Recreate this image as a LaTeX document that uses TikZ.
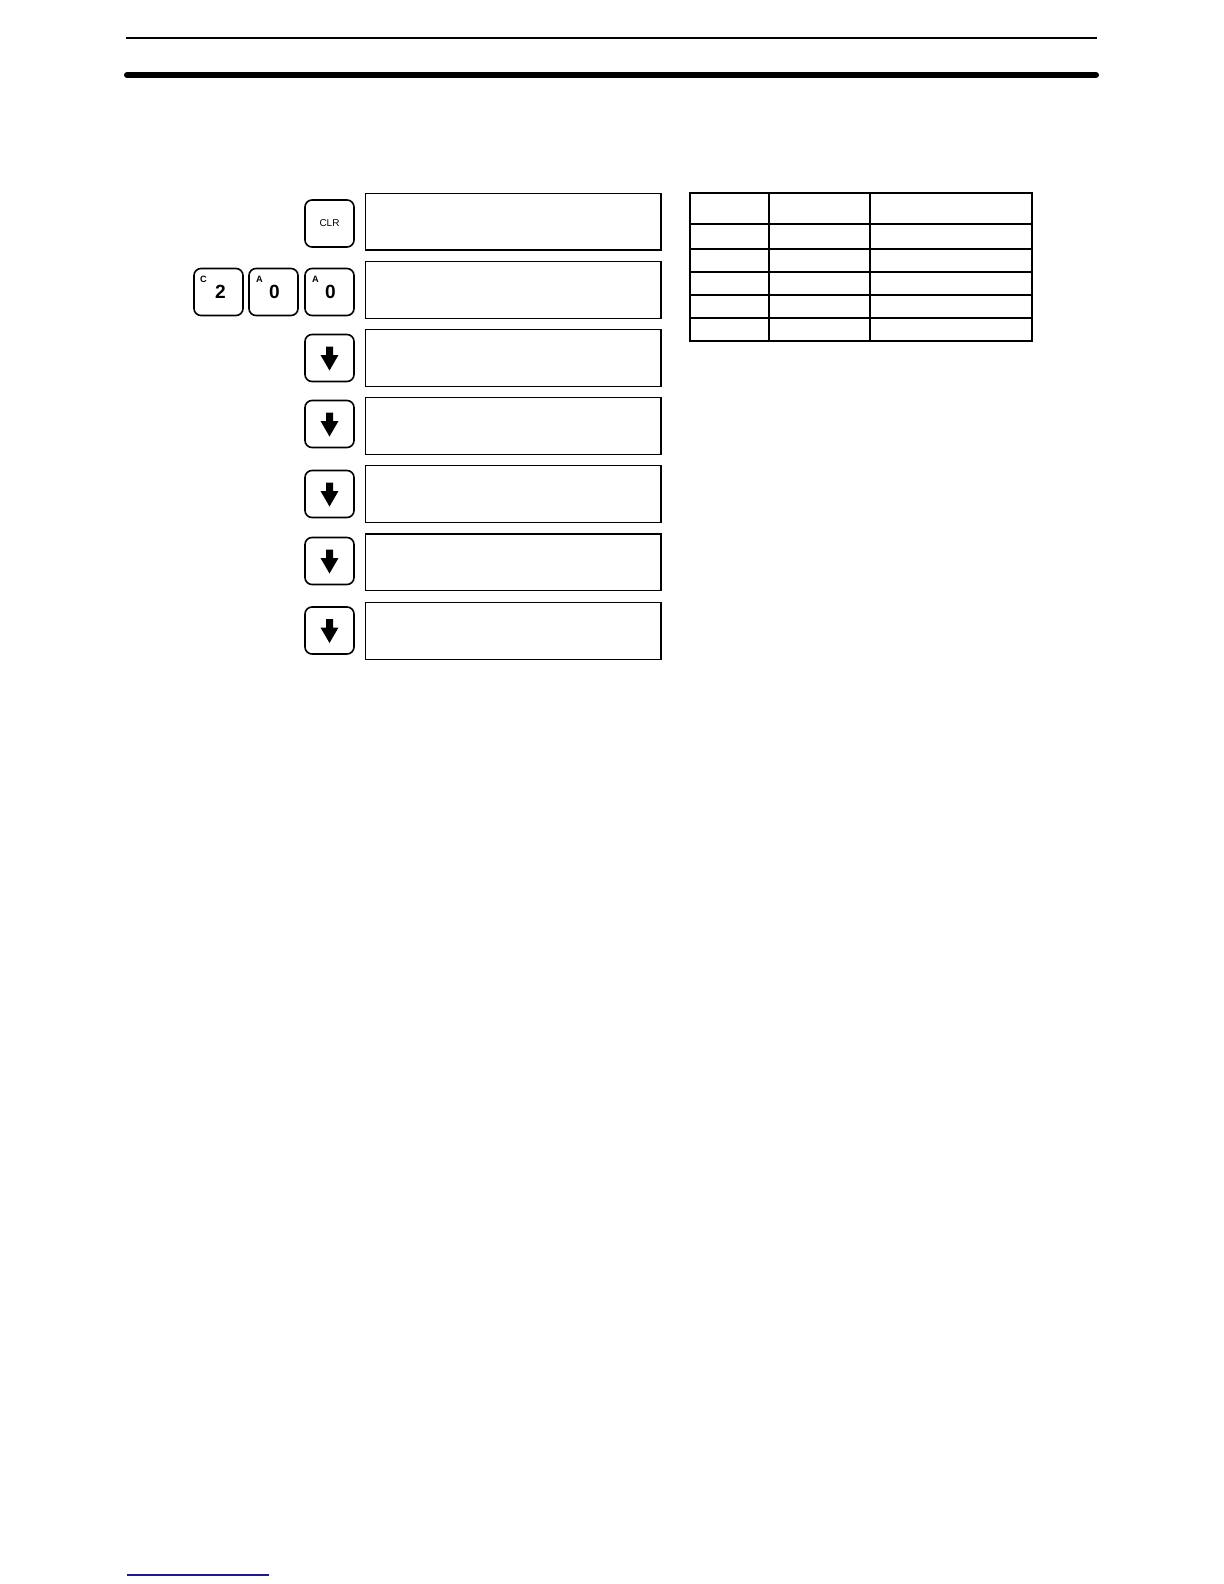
\documentclass[tikz,border=0pt]{standalone}
\usepackage{fontspec}
\setmainfont{Liberation Sans}
\definecolor{ManualBlack}{RGB}{0,0,0}
\definecolor{ManualBlue}{RGB}{25,25,150}

\begin{document}
\begin{tikzpicture}[x=0.5bp,y=-0.5bp,
		keycap/.style={draw=ManualBlack, line width=0.8bp, rounded corners=3.5bp,
			minimum width=24.5bp, minimum height=23.5bp, inner sep=0pt,
			font=\fontsize{9.6}{9.6}\bfseries\selectfont},
		keyletter/.style={inner sep=0pt, font=\fontsize{4.6}{4.6}\bfseries\selectfont},
		display/.style={draw=ManualBlack, line width=0.75bp,
			minimum width=147.7bp, minimum height=28.4bp, inner sep=0pt},
		tablerule/.style={draw=ManualBlack, line width=1.1bp}]
		\useasboundingbox (0,0) rectangle (1224,1584);
		% page rules
		\draw[line width=1bp, draw=ManualBlack] (126,37.5) -- (1097,37.5);
		\draw[line width=3bp, line cap=round, draw=ManualBlack] (127,75) -- (1096,75);
		\draw[line width=0.8bp, draw=ManualBlue] (127,1575) -- (269,1575);
		% display boxes
		\foreach \n/\yy in {1/221.8,2/290,3/358,4/426,5/494,6/562.3,7/631}
			\node[display] (disp\n) at (513.4,\yy) {};
		% keys
		\node[keycap] (keyclr) at (329.5,223.5) {\fontsize{5}{5}\mdseries\selectfont CLR};
		\node[keycap] (keytwo) at (218.5,292) {\hspace*{2bp}2};
		\node[keycap] (keyzeroa) at (273.5,292) {\hspace*{1bp}0};
		\node[keycap] (keyzerob) at (329.5,292) {\hspace*{1bp}0};
		\node[keyletter] at ([shift={(-15,-13)}]keytwo.center) {C};
		\node[keyletter] at ([shift={(-14,-13)}]keyzeroa.center) {A};
		\node[keyletter] at ([shift={(-14,-13)}]keyzerob.center) {A};
		\foreach \n/\yy in {3/358,4/424,5/494,6/561,7/630.5}{
			\node[keycap] (keydown\n) at (329.5,\yy) {};
			\fill[ManualBlack, shift={(keydown\n.center)}]
			(-3.5,-11.5) -- (3.5,-11.5) -- (3.5,-3) -- (9,-3) -- (0,12.5) -- (-9,-3) -- (-3.5,-3) -- cycle;
		}
		% table
		\draw[tablerule] (690,193.3) rectangle (1031.7,341);
		\foreach \xx in {769.3,870}
			\draw[tablerule] (\xx,193.3) -- (\xx,341);
		\foreach \yy in {224.3,248.7,271.7,294.7,317.7}
			\draw[tablerule] (690,\yy) -- (1031.7,\yy);
	\end{tikzpicture}
\end{document}
